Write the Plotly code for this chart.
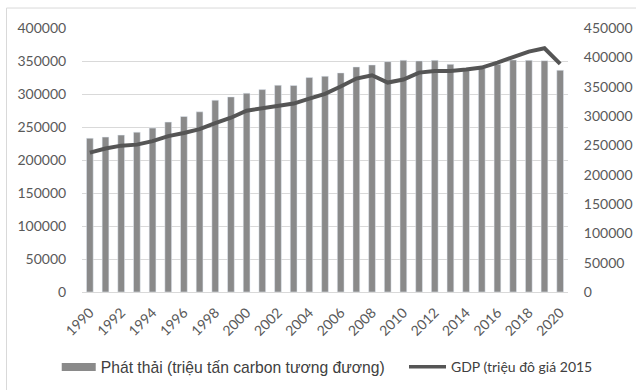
import plotly.graph_objects as go

# Years covered by the series
years = list(range(1990, 2021))

# Emissions (million tonnes CO2-equivalent), left axis
emissions = [
    233000, 234700, 237700, 242200, 248300, 257400, 265900, 273000, 290600, 295600,
    301200, 306700, 313300, 312800, 324900, 326900, 332000, 341000, 344000, 349000,
    351100, 350100, 351000, 345000, 336500, 339000, 345000, 351600, 351000, 350500,
    336000,
]

# GDP (million USD, 2015 prices), right axis
gdp = [
    237500, 244500, 249500, 251200, 257200, 265700, 271000, 277600, 287800, 297000,
    309000, 313200, 317600, 321200, 329700, 337800, 350200, 363800, 369500, 357000,
    362200, 374000, 376800, 376800, 379100, 382500, 391000, 400100, 409700, 415400,
    388800,
]

left_ticks = list(range(0, 400001, 50000))
right_ticks = list(range(0, 450001, 50000))

name_emis = "Phát thải (triệu tấn carbon tương đương)"
name_gdp = "GDP (triệu đô giá 2015"

BAR_COLOR = "#8a8a8a"
LINE_COLOR = "#555555"
GRID = "#d9d9d9"
TICK_FONT = dict(family="Lato, Open Sans, sans-serif", size=14, color="#595959")

fig = go.Figure()

fig.add_trace(go.Bar(
    x=years, y=emissions, name=name_emis, marker_color=BAR_COLOR,
    width=0.43, showlegend=False, yaxis="y",
))
fig.add_trace(go.Scatter(
    x=years, y=gdp, name=name_gdp, mode="lines",
    line=dict(color=LINE_COLOR, width=4), showlegend=False, yaxis="y2",
))

# Legend entries: a wide flat swatch for the bars and a line swatch for GDP,
# each in its own legend box so they can be placed independently
fig.add_trace(go.Scatter(
    x=[None], y=[None], mode="lines", name=name_emis, legend="legend",
    line=dict(color=BAR_COLOR, width=8),
))
fig.add_trace(go.Scatter(
    x=[None], y=[None], mode="lines", name=name_gdp, legend="legend2",
    line=dict(color=LINE_COLOR, width=3.5),
))

fig.update_layout(
    width=636, height=390,
    margin=dict(l=82, r=68, t=28, b=97.5, autoexpand=False),
    paper_bgcolor="white", plot_bgcolor="white",
    xaxis=dict(
        range=[1989.5, 2020.5], tick0=1990, dtick=2, tickangle=-45,
        tickfont=TICK_FONT, showgrid=False, zeroline=False, automargin=False,
        showline=False, ticks="outside", ticklen=6, tickcolor="rgba(0,0,0,0)",
    ),
    yaxis=dict(
        range=[0, 400000], tickvals=left_ticks, ticktext=[str(v) for v in left_ticks],
        tickfont=TICK_FONT, showgrid=True, gridcolor=GRID, gridwidth=1, automargin=False,
        zeroline=True, zerolinecolor=GRID, zerolinewidth=1,
        ticks="outside", ticklen=12, tickcolor="rgba(0,0,0,0)",
    ),
    yaxis2=dict(
        range=[0, 450000], tickvals=right_ticks, ticktext=[str(v) for v in right_ticks],
        overlaying="y", side="right", automargin=False,
        tickfont=TICK_FONT, showgrid=False, zeroline=False,
        ticks="outside", ticklen=12, tickcolor="rgba(0,0,0,0)",
    ),
    legend=dict(
        orientation="h", x=-0.052, xanchor="left", y=-0.285, yanchor="middle",
        font=dict(family="Liberation Sans, Arial, sans-serif", size=15.7, color="#404040"),
        itemwidth=34, bgcolor="rgba(0,0,0,0)",
    ),
    legend2=dict(
        orientation="h", x=(404 - 82) / 486, xanchor="left", y=-0.285, yanchor="middle",
        font=dict(family="Lato, Open Sans, sans-serif", size=14, color="#404040"),
        itemwidth=37, bgcolor="rgba(0,0,0,0)",
    ),
    shapes=[
        dict(
            type="rect", xref="paper", yref="paper",
            x0=(6.5 - 82) / 486, x1=1.3, y0=-0.6, y1=(292.5 - 8) / 264.5,
            line=dict(color="#d9d9d9", width=1), fillcolor="rgba(0,0,0,0)", layer="below",
        )
    ],
)

fig.write_html("out.html")
